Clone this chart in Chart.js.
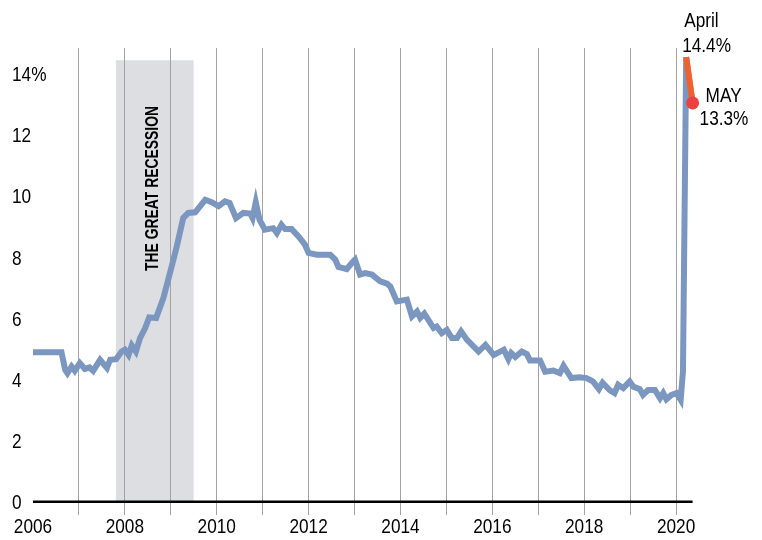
<!DOCTYPE html>
<html>
<head>
<meta charset="utf-8">
<script src="https://cdn.jsdelivr.net/npm/chart.js@4.4.1/dist/chart.umd.min.js"></script>
<style>
  html, body { margin: 0; padding: 0; background: #fff; }
</style>
</head>
<body>
<canvas id="jobless" width="762" height="540"></canvas>
<script>
'use strict';

// monthly-ish unemployment rate (x = decimal year)
const years = [
  2006.00, 2006.62, 2006.70, 2006.75, 2006.84, 2006.91, 2007.02, 2007.13, 2007.23, 2007.31,
  2007.46, 2007.61, 2007.68, 2007.81, 2007.93, 2008.00, 2008.08, 2008.15, 2008.24, 2008.33,
  2008.44, 2008.53, 2008.68, 2008.84, 2009.02, 2009.13, 2009.27, 2009.38, 2009.53, 2009.75,
  2009.89, 2010.04, 2010.18, 2010.28, 2010.42, 2010.58, 2010.73, 2010.78, 2010.85, 2010.93,
  2011.05, 2011.23, 2011.31, 2011.41, 2011.49, 2011.63, 2011.78, 2011.92, 2012.00, 2012.18,
  2012.47, 2012.58, 2012.65, 2012.83, 2012.94, 2013.01, 2013.12, 2013.23, 2013.38, 2013.56,
  2013.71, 2013.78, 2013.92, 2014.14, 2014.25, 2014.36, 2014.43, 2014.52, 2014.72, 2014.79,
  2014.90, 2015.01, 2015.12, 2015.23, 2015.32, 2015.45, 2015.70, 2015.85, 2016.03, 2016.25,
  2016.35, 2016.41, 2016.50, 2016.64, 2016.75, 2016.82, 2017.04, 2017.15, 2017.33, 2017.47,
  2017.55, 2017.72, 2017.90, 2018.05, 2018.19, 2018.32, 2018.40, 2018.55, 2018.66, 2018.74,
  2018.85, 2018.99, 2019.07, 2019.21, 2019.28, 2019.39, 2019.54, 2019.65, 2019.72, 2019.79,
  2019.90, 2020.01, 2020.10, 2020.15, 2020.22, 2020.36
];
const rates = [
  4.94, 4.94, 4.36, 4.25, 4.47, 4.33, 4.58, 4.39, 4.44, 4.33,
  4.69, 4.42, 4.69, 4.71, 4.96, 5.02, 4.85, 5.16, 4.96, 5.40,
  5.72, 6.08, 6.06, 6.72, 7.75, 8.40, 9.33, 9.50, 9.52, 9.93,
  9.85, 9.72, 9.88, 9.83, 9.33, 9.50, 9.48, 9.33, 9.85, 9.28,
  8.95, 9.00, 8.84, 9.11, 8.97, 8.97, 8.73, 8.46, 8.19, 8.13,
  8.13, 7.97, 7.73, 7.66, 7.86, 7.97, 7.48, 7.53, 7.48, 7.26,
  7.18, 7.09, 6.60, 6.66, 6.11, 6.27, 6.06, 6.20, 5.73, 5.78,
  5.56, 5.67, 5.40, 5.40, 5.62, 5.34, 4.96, 5.18, 4.85, 5.02,
  4.71, 4.91, 4.78, 4.96, 4.88, 4.67, 4.67, 4.30, 4.34, 4.25,
  4.49, 4.09, 4.12, 4.09, 3.98, 3.73, 3.94, 3.70, 3.60, 3.87,
  3.76, 3.98, 3.81, 3.73, 3.54, 3.70, 3.70, 3.43, 3.60, 3.40,
  3.54, 3.60, 3.38, 4.30, 14.60, 13.10
];

// april -> may highlight
const spikeYears = [2020.22, 2020.36];
const spikeRates = [14.6, 13.1];
const spikeLabels = [['April', '14.4%'], ['MAY', '13.3%']];

// recession band (dec 2007 - jun 2009)
const recessionYears = [2007.8, 2009.5];
const recessionTop = 14.5;

// axes
const yTicks = [0, 2, 4, 6, 8, 10, 12, 14];
const yTickLabels = ['0', '2', '4', '6', '8', '10', '12', '14%'];
const xLabelYears = [2006, 2008, 2010, 2012, 2014, 2016, 2018, 2020];

const FONT = '"Liberation Sans", Arial, sans-serif';
const SQUEEZE = 0.82; // fake a condensed face
const BLUE = '#7b97bf';
const ORANGE = '#f2602d';
const RED = '#ec4141';
const GRID = '#a3a3a3';

const pts = (xs, ys) => xs.map((x, i) => ({ x: x, y: ys[i] }));

function narrowText(ctx, text, x, y, align) {
  ctx.save();
  ctx.translate(x, y);
  ctx.scale(SQUEEZE, 1);
  ctx.textAlign = align;
  ctx.fillText(text, 0, 0);
  ctx.restore();
}

// tick labels + notes, placed with the chart's own scales
const notes = {
  id: 'notes',
  afterDatasetsDraw(chart) {
    const { ctx, scales } = chart;
    const x = scales.x, y = scales.y;
    ctx.save();
    ctx.fillStyle = '#000';
    ctx.font = '21px ' + FONT;
    ctx.textBaseline = 'middle';

    // y tick labels
    yTicks.forEach((v, i) => {
      narrowText(ctx, yTickLabels[i], 12, y.getPixelForValue(v), 'left');
    });
    // x tick labels
    xLabelYears.forEach(v => {
      narrowText(ctx, String(v), x.getPixelForValue(v), y.bottom + 24, 'center');
    });

    // recession label, rotated
    let cx = x.getPixelForValue((recessionYears[0] + recessionYears[1]) / 2) - 1.5;
    let cy = y.getPixelForValue(10.3);
    ctx.save();
    ctx.translate(cx, cy);
    ctx.rotate(-Math.PI / 2);
    ctx.font = 'bold 18px ' + FONT;
    ctx.textAlign = 'center';
    ctx.fillText('THE GREAT RECESSION', 0, 0, 165);
    ctx.restore();

    // april / may labels
    ctx.textBaseline = 'alphabetic';
    let ax = x.getPixelForValue(spikeYears[0]);
    let ay = y.getPixelForValue(spikeRates[0]);
    narrowText(ctx, spikeLabels[0][0], ax - 2, ay - 30, 'left');
    narrowText(ctx, spikeLabels[0][1], ax - 4, ay - 5, 'left');
    let mx = x.getPixelForValue(spikeYears[1]);
    let my = y.getPixelForValue(spikeRates[1]);
    narrowText(ctx, spikeLabels[1][0], mx + 13, my - 1, 'left');
    narrowText(ctx, spikeLabels[1][1], mx + 7, my + 22, 'left');
    ctx.restore();
  }
};

new Chart(document.getElementById('jobless'), {
  type: 'line',
  data: {
    datasets: [
      {
        // may dot
        data: pts(spikeYears.slice(1), spikeRates.slice(1)),
        showLine: false,
        pointRadius: 6.5,
        pointBackgroundColor: RED,
        pointBorderWidth: 0,
        order: 0
      },
      {
        // april -> may segment
        data: pts(spikeYears, spikeRates),
        borderColor: ORANGE,
        borderWidth: 6,
        pointRadius: 0,
        order: 1
      },
      {
        data: pts(years, rates),
        borderColor: BLUE,
        borderWidth: 6,
        pointRadius: 0,
        tension: 0,
        order: 2
      },
      {
        // zero line
        data: pts([years[0], years[years.length - 1]], [0, 0]),
        borderColor: '#000',
        borderWidth: 5,
        borderCapStyle: 'butt',
        pointRadius: 0,
        order: 3
      },
      {
        // recession band
        data: pts(recessionYears, [recessionTop, recessionTop]),
        borderWidth: 0,
        pointRadius: 0,
        fill: 'origin',
        backgroundColor: 'rgba(155,160,170,0.35)',
        order: 4
      }
    ]
  },
  options: {
    responsive: false,
    devicePixelRatio: 1,
    animation: false,
    layout: { padding: { left: 11, right: 40, top: 48, bottom: 0 } },
    plugins: {
      legend: { display: false },
      tooltip: { enabled: false }
    },
    scales: {
      x: {
        type: 'linear',
        min: 2006,
        max: 2021,
        afterFit: s => { s.height = 37; },
        border: { display: false },
        grid: {
          color: c => (c.tick && (c.tick.value === 2006 || c.tick.value > 2020)) ? 'rgba(0,0,0,0)' : GRID,
          lineWidth: 1,
          tickLength: 12
        },
        ticks: { stepSize: 1, autoSkip: false, display: false }
      },
      y: {
        min: 0,
        max: 14.9,
        afterFit: s => { s.width = 22; },
        border: { display: false },
        grid: { display: false },
        ticks: { stepSize: 2, display: false }
      }
    }
  },
  plugins: [notes]
});
</script>
</body>
</html>
